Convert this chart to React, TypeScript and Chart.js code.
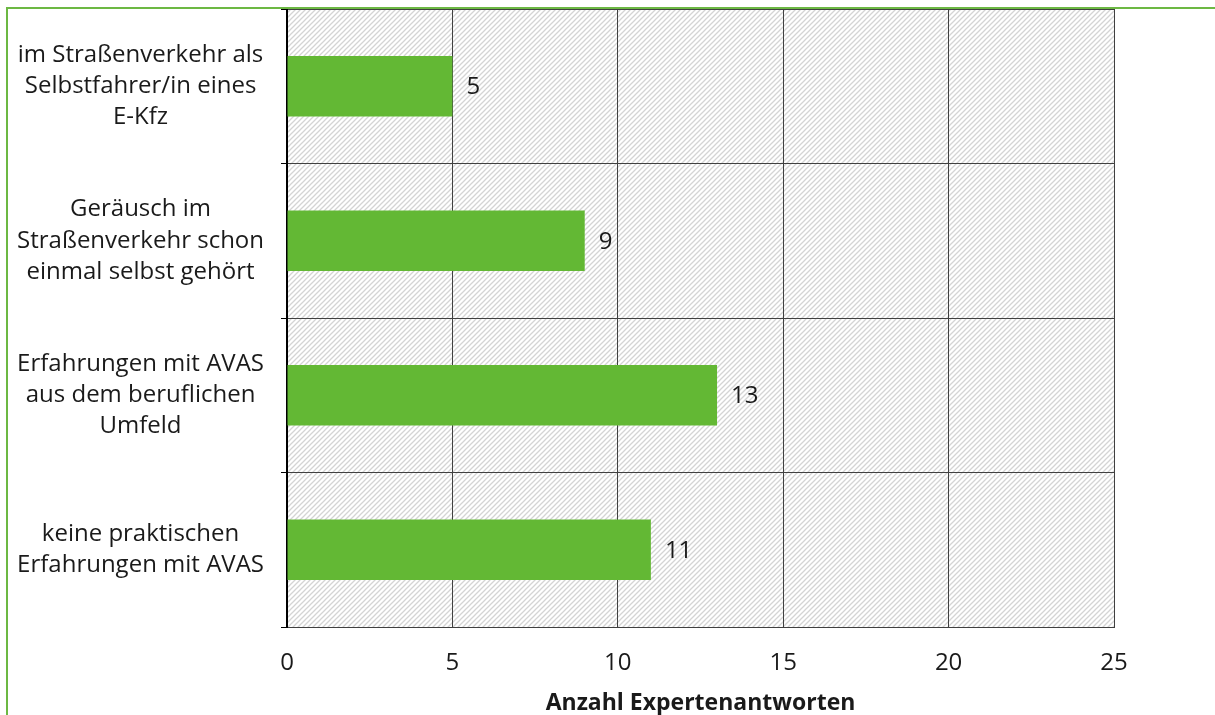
import React, { useEffect, useRef } from "react";
import { Chart, registerables } from "chart.js";

Chart.register(...registerables);

const categories: string[][] = [
  ["im Straßenverkehr als", "Selbstfahrer/in eines", "E-Kfz"],
  ["Geräusch im", "Straßenverkehr schon", "einmal selbst gehört"],
  ["Erfahrungen mit AVAS", "aus dem beruflichen", "Umfeld"],
  ["keine praktischen", "Erfahrungen mit AVAS"],
];
const values: number[] = [5, 9, 13, 11];
const xTicks: number[] = [0, 5, 10, 15, 20, 25];
const xTitle = "Anzahl Expertenantworten";

const FONT = "'Open Sans', sans-serif";
const GREEN = "#63b834";
const FRAME = "#6cb843";

const hatchPlugin = {
  id: "hatch",
  beforeDraw(chart: any) {
    const { ctx, chartArea } = chart;
    const t = document.createElement("canvas");
    const s = 5;
    t.width = s;
    t.height = s;
    const c = t.getContext("2d")!;
    c.fillStyle = "#ffffff";
    c.fillRect(0, 0, s, s);
    c.strokeStyle = "#d4d4d4";
    c.lineWidth = 1.3;
    c.beginPath();
    c.moveTo(-1, s + 1);
    c.lineTo(s + 1, -1);
    c.moveTo(-1, 1);
    c.lineTo(1, -1);
    c.moveTo(s - 1, s + 1);
    c.lineTo(s + 1, s - 1);
    c.stroke();
    const pat = ctx.createPattern(t, "repeat");
    ctx.save();
    ctx.fillStyle = pat;
    ctx.fillRect(chartArea.left, chartArea.top, chartArea.right - chartArea.left, chartArea.bottom - chartArea.top);
    ctx.restore();
  },
};

const labelPlugin = {
  id: "barLabels",
  afterDatasetsDraw(chart: any) {
    const { ctx } = chart;
    const meta = chart.getDatasetMeta(0);
    ctx.save();
    ctx.font = `24px ${FONT}`;
    ctx.fillStyle = "#1a1a1a";
    ctx.textAlign = "left";
    ctx.textBaseline = "middle";
    meta.data.forEach((el: any, i: number) => {
      ctx.fillText(String(values[i]), el.x + 14, el.y + 1);
    });
    ctx.restore();
  },
};

const framePlugin = {
  id: "frame",
  afterDraw(chart: any) {
    const { ctx, width, height } = chart;
    ctx.save();
    ctx.strokeStyle = FRAME;
    ctx.lineWidth = 2;
    ctx.beginPath();
    ctx.moveTo(7, height);
    ctx.lineTo(7, 8);
    ctx.lineTo(width, 8);
    ctx.stroke();
    ctx.restore();
  },
};

export default function App() {
  const ref = useRef<HTMLCanvasElement>(null);
  useEffect(() => {
    if (!ref.current) return;
    const chart = new Chart(ref.current, {
      type: "bar",
      data: {
        labels: categories,
        datasets: [
          {
            data: values,
            backgroundColor: GREEN,
            borderWidth: 0,
            barPercentage: 0.39,
            categoryPercentage: 1,
          },
        ],
      },
      options: {
        indexAxis: "y",
        animation: false,
        responsive: false,
        layout: { padding: { top: 9, right: 101, left: 0, bottom: 0 } },
        plugins: { legend: { display: false }, tooltip: { enabled: false } },
        scales: {
          x: {
            min: 0,
            max: 25,
            afterBuildTicks: (scale: any) => {
              scale.ticks = xTicks.map((v) => ({ value: v }));
            },
            afterFit: (scale: any) => {
              scale.height = 88;
              scale.paddingLeft = 0;
              scale.paddingRight = 0;
            },
            grid: { color: "#404040", lineWidth: 1, drawTicks: false },
            border: { color: "#404040", width: 1 },
            ticks: { font: { family: FONT, size: 24 }, color: "#1a1a1a", padding: 22 },
            title: {
              display: true,
              text: xTitle,
              font: { family: FONT, size: 23, weight: "bold", lineHeight: 1 },
              color: "#1a1a1a",
              padding: { top: 14, bottom: 0 },
            },
          },
          y: {
            afterFit: (scale: any) => {
              scale.width = 287;
              scale.paddingTop = 0;
              scale.paddingBottom = 0;
            },
            grid: { color: "#404040", lineWidth: 1, tickLength: 6, tickColor: "#000000", offset: true },
            border: { color: "#000000", width: 2 },
            ticks: {
              font: { family: FONT, size: 24, lineHeight: 1.3 },
              color: "#1a1a1a",
              crossAlign: "center",
              padding: 17,
            },
          },
        },
      },
      plugins: [hatchPlugin, labelPlugin, framePlugin],
    });
    return () => chart.destroy();
  }, []);
  return (
    <div style={{ position: "fixed", left: 0, top: 0, width: 1215, height: 715, background: "#fff" }}>
      <canvas ref={ref} width={1215} height={715} style={{ width: 1215, height: 715 }} />
    </div>
  );
}
